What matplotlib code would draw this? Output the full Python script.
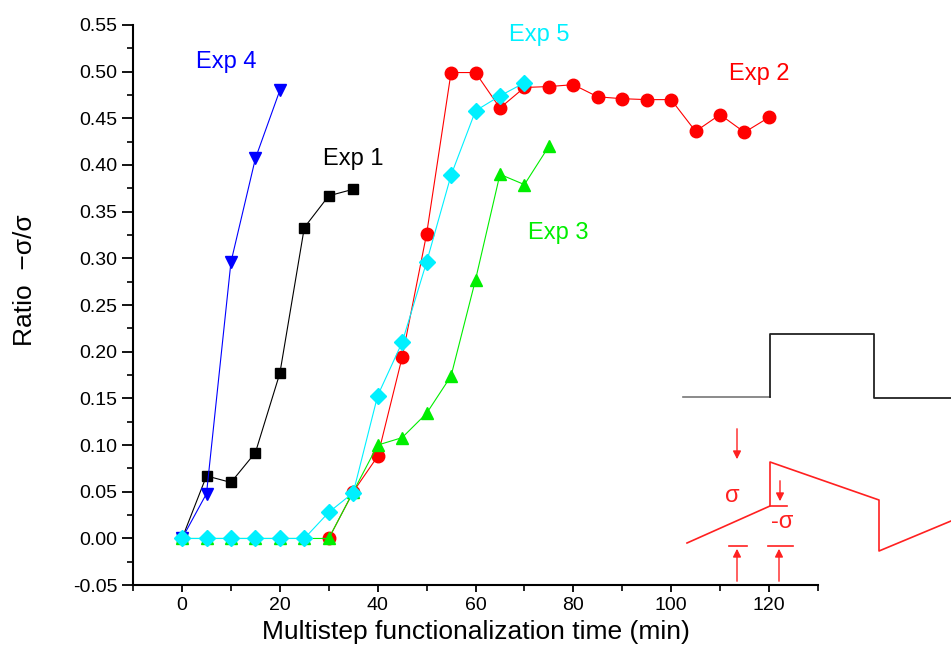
import matplotlib
matplotlib.use('Agg')
import matplotlib.pyplot as plt
from matplotlib.ticker import MultipleLocator

plt.rcParams['font.family'] = ['Liberation Sans', 'DejaVu Sans']

# time axis (min) and ratio values for each experiment
t_exp1 = [0, 5, 10, 15, 20, 25, 30, 35]
r_exp1 = [0, 0.067, 0.060, 0.092, 0.177, 0.333, 0.367, 0.374]

t_exp4 = [0, 5, 10, 15, 20]
r_exp4 = [0, 0.048, 0.296, 0.407, 0.480]

t_exp2 = [30, 35, 40, 45, 50, 55, 60, 65, 70, 75, 80,
          85, 90, 95, 100, 105, 110, 115, 120]
r_exp2 = [0, 0.050, 0.088, 0.194, 0.326, 0.499, 0.499,
          0.461, 0.483, 0.484, 0.486, 0.473, 0.471, 0.470, 0.470, 0.436,
          0.454, 0.435, 0.451]

t_exp3 = [0, 5, 10, 15, 20, 25, 30, 35, 40, 45, 50, 55, 60, 65, 70, 75]
r_exp3 = [0, 0, 0, 0, 0, 0, 0, 0.050, 0.100, 0.108, 0.134, 0.174, 0.277,
          0.390, 0.379, 0.420]

t_exp5 = [0, 5, 10, 15, 20, 25, 30, 35, 40, 45, 50, 55, 60, 65, 70]
r_exp5 = [0, 0, 0, 0, 0, 0, 0.028, 0.049, 0.153, 0.210, 0.296, 0.389,
          0.458, 0.474, 0.488]

y_ticks = [-0.05, 0.00, 0.05, 0.10, 0.15, 0.20, 0.25, 0.30, 0.35, 0.40,
           0.45, 0.50, 0.55]

# schematic of the applied step and the stress response (figure pixels)
step_x = [683, 770, 770, 874, 874, 951]
step_y = [397, 397, 334, 334, 398, 398]
saw_x = [687, 770, 770, 879, 879, 951]
saw_y = [543, 506, 462, 500, 551, 521]

fig = plt.figure(figsize=(9.51, 6.56), dpi=100)
ax = fig.add_axes([0.140, 0.108, 0.720, 0.854])

ax.plot(t_exp1, r_exp1, '-s', color='black', lw=0.8, ms=7.5, mec='black')
ax.plot(t_exp4, r_exp4, '-v', color='#0000ff', lw=0.8, ms=9)
ax.plot(t_exp2, r_exp2, '-o', color='#ff0000', lw=0.8, ms=9)
ax.plot(t_exp3, r_exp3, '-^', color='#00ee00', lw=0.8, ms=9)
ax.plot(t_exp5, r_exp5, '-D', color='#00f0ff', lw=0.8, ms=8.5)

tfont = {'size': 17}
ax.text(9, 0.510, 'Exp 4', color='#0000ff', ha='center', va='center', **tfont)
ax.text(35, 0.406, 'Exp 1', color='black', ha='center', va='center', **tfont)
ax.text(73, 0.539, 'Exp 5', color='#00f0ff', ha='center', va='center', **tfont)
ax.text(118, 0.497, 'Exp 2', color='#ff0000', ha='center', va='center', **tfont)
ax.text(77, 0.327, 'Exp 3', color='#00ee00', ha='center', va='center', **tfont)

ax.set_xlim(-10, 130)
ax.set_ylim(-0.05, 0.55)
ax.xaxis.set_major_locator(MultipleLocator(20))
ax.xaxis.set_minor_locator(MultipleLocator(10))
ax.yaxis.set_minor_locator(MultipleLocator(0.025))
ax.set_yticks(y_ticks)
ax.set_yticklabels(['%.2f' % v for v in y_ticks])

for s in ['top', 'right']:
    ax.spines[s].set_visible(False)
for s in ['left', 'bottom']:
    ax.spines[s].set_linewidth(1.5)
ax.tick_params(axis='both', which='major', direction='out', width=1.3, labelsize=14)
ax.tick_params(axis='y', which='major', length=8)
ax.tick_params(axis='x', which='major', length=5)
ax.tick_params(axis='both', which='minor', direction='out', width=1.2, length=4)

ax.set_xlabel('Multistep functionalization time (min)', fontsize=19, labelpad=4)
ax.set_ylabel('Ratio  \u2212\u03c3/\u03c3', fontsize=19)
ax.yaxis.set_label_coords(-0.14, 0.545)

# overlay in pixel coordinates for the step/response sketch
ov = fig.add_axes([0, 0, 1, 1], facecolor='none')
ov.set_xlim(0, 951)
ov.set_ylim(656, 0)
ov.axis('off')
ov.plot(step_x[:2], step_y[:2], color='#777777', lw=1.2)
ov.plot(step_x[1:], step_y[1:], color='#222222', lw=1.3)
ov.plot(saw_x, saw_y, color='#ff2020', lw=1.2)
ov.plot([770, 787], [506, 506], color='#ff2020', lw=1.2)

red = '#ff2020'
arr = dict(arrowstyle='-|>', color=red, lw=1.0, mutation_scale=12)
ov.annotate('', xy=(737, 462), xytext=(737, 426), arrowprops=arr)
ov.annotate('', xy=(780, 504), xytext=(780, 478), arrowprops=arr)
ov.annotate('', xy=(737, 546), xytext=(737, 584), arrowprops=arr)
ov.annotate('', xy=(779, 546), xytext=(779, 584), arrowprops=arr)
ov.plot([729, 747], [546, 546], color=red, lw=1.2)
ov.plot([768, 793], [546, 546], color=red, lw=1.2)
ov.text(732, 496, '\u03c3', color=red, fontsize=17, ha='center', va='center')
ov.text(782, 522, '-\u03c3', color=red, fontsize=17, ha='center', va='center')

fig.savefig('out.png', dpi=100)
